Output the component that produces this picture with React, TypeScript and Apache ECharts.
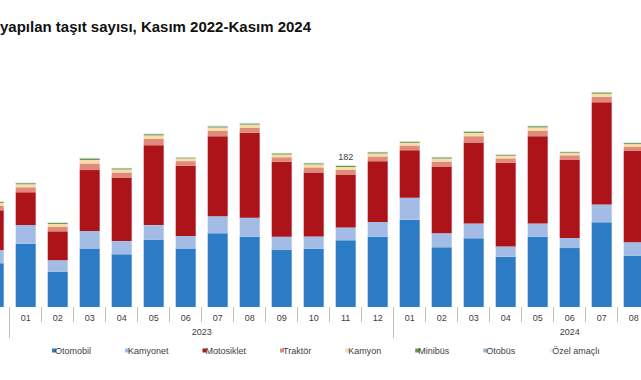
import React, { useEffect, useRef } from "react";
import * as echarts from "echarts";

const titleText = "yapılan taşıt sayısı, Kasım 2022-Kasım 2024";
const months = ["12", "01", "02", "03", "04", "05", "06", "07", "08", "09", "10", "11", "12", "01", "02", "03", "04", "05", "06", "07", "08"];
const yearLabels = ["2023", "2024"];
const yearLabelPositions = [6.5, 18];
const yearSeparators = [0.5, 12.5];
const seriesNames = ["Otomobil", "Kamyonet", "Motosiklet", "Traktör", "Kamyon", "Minibüs", "Otobüs", "Özel amaçlı"];
const seriesColors = ["#2b7cc4", "#a3bce5", "#ad1419", "#df8a7a", "#f8dba5", "#5f9940", "#9fb5d5", "#efede3"];

const otomobil = [56, 81, 45, 75, 67.5, 86, 75, 94.5, 90, 73, 74.5, 85.5, 90, 112, 76.5, 88, 64.5, 90, 75.5, 108.5, 65.5];
const kamyonet = [17, 24, 15, 22.5, 17, 19, 16, 22, 24.5, 17, 16, 16.5, 19, 28, 18, 19, 13, 17, 13, 23, 17.5];
const motosiklet = [51, 42, 37, 78, 81.5, 102.5, 90, 102.5, 109, 96, 82, 68, 78, 61, 85.5, 104, 107.5, 112, 100.5, 131, 117];
const traktor = [6, 6.5, 6, 8.5, 6.5, 8, 6, 7, 6.5, 6, 6.5, 6, 6, 6, 6.5, 8, 5.5, 7, 5.5, 7, 5.5];
const kamyon = [3.5, 3.8, 3.5, 4.5, 3.8, 4.5, 3.5, 4, 3.8, 3.5, 3.8, 3.5, 3.8, 3.5, 3.8, 4.2, 3.5, 4.2, 3.2, 4, 3.4];
const minibus = [1.2, 1.3, 1.2, 1.6, 1.3, 1.5, 1, 1.4, 1.3, 1.3, 1.3, 1.3, 1.4, 1.3, 1.3, 1.5, 1.1, 1.5, 0.9, 1.4, 1.2];
const otobus = [0.6, 0.6, 0.6, 0.8, 0.6, 0.7, 0.5, 0.7, 0.6, 0.6, 0.6, 0.6, 0.6, 0.6, 0.6, 0.6, 0.6, 0.7, 0.5, 0.6, 0.6];
const ozelAmacli = [0.7, 0.6, 0.7, 0.9, 0.6, 0.7, 0.5, 0.6, 0.6, 0.6, 0.6, 0.6, 0.6, 0.6, 0.6, 0.6, 0.5, 0.7, 0.5, 0.6, 0.5];
const labelledIndex = 11;

const seriesData = [otomobil, kamyonet, motosiklet, traktor, kamyon, minibus, otobus, ozelAmacli];

// the reference is a crop of a wider chart: draw on a wider canvas shifted left
const SHIFT = 30;
const CANVAS_W = 690;

export default function App() {
  const ref = useRef<HTMLDivElement>(null);
  useEffect(() => {
    if (!ref.current) return;
    const chart = echarts.init(ref.current, null, { renderer: "svg" });
    const font = "Liberation Sans";
    const totals = months.map((_, i) => seriesData.reduce((s, arr) => s + arr[i], 0));
    const series = seriesData.map((arr, si) => ({
      name: seriesNames[si],
      type: "bar",
      stack: "total",
      barWidth: 20,
      xAxisIndex: 0,
      data: arr,
      itemStyle: { color: seriesColors[si] },
      label:
        si === seriesData.length - 1
          ? {
              show: true,
              position: "top",
              distance: 4,
              fontSize: 9,
              fontFamily: font,
              color: "#404040",
              formatter: (p: any) => (p.dataIndex === labelledIndex ? String(Math.round(totals[p.dataIndex])) : ""),
            }
          : { show: false },
    }));
    chart.setOption({
      animation: false,
      backgroundColor: "#ffffff",
      title: {
        text: titleText,
        left: SHIFT + 0,
        top: 19,
        padding: 0,
        textStyle: { fontSize: 15, fontWeight: "bold", fontFamily: font, color: "#111111" },
      },
      legend: {
        data: seriesNames,
        left: SHIFT + 47,
        top: 341,
        icon: "rect",
        itemWidth: 4,
        itemHeight: 4,
        itemGap: 34,
        textStyle: { fontSize: 9, fontFamily: font, color: "#404040", padding: [0, 0, 0, -6] },
      },
      grid: { left: SHIFT - 22.3, right: CANVAS_W - SHIFT - 649.7, top: 41.8, bottom: 73, containLabel: false },
      xAxis: [
        {
          type: "category",
          data: months,
          axisLine: { show: false },
          axisTick: { show: true, length: 15, lineStyle: { color: "#bfbfbf" } },
          axisLabel: {
            margin: 6,
            fontSize: 9,
            fontFamily: font,
            color: "#404040",
            interval: (index: number) => index !== 0,
          },
        },
        {
          type: "value",
          position: "bottom",
          min: -0.5,
          max: 20.5,
          axisLine: { show: false },
          splitLine: { show: false },
          axisTick: { show: true, customValues: yearSeparators, length: 31, lineStyle: { color: "#bfbfbf" } },
          axisLabel: {
            show: true,
            customValues: yearLabelPositions,
            margin: 20,
            fontSize: 9,
            fontFamily: font,
            color: "#404040",
            formatter: (v: number) => yearLabels[yearLabelPositions.indexOf(v)] ?? "",
          },
        },
      ],
      yAxis: { type: "value", min: 0, max: 340, show: false, splitLine: { show: false } },
      series,
    });
    return () => chart.dispose();
  }, []);
  return (
    <div style={{ position: "absolute", left: 0, top: 0, width: 641, height: 380, overflow: "hidden", background: "#fff" }}>
      <div ref={ref} style={{ position: "absolute", left: -SHIFT, top: 0, width: CANVAS_W, height: 380 }} />
    </div>
  );
}
